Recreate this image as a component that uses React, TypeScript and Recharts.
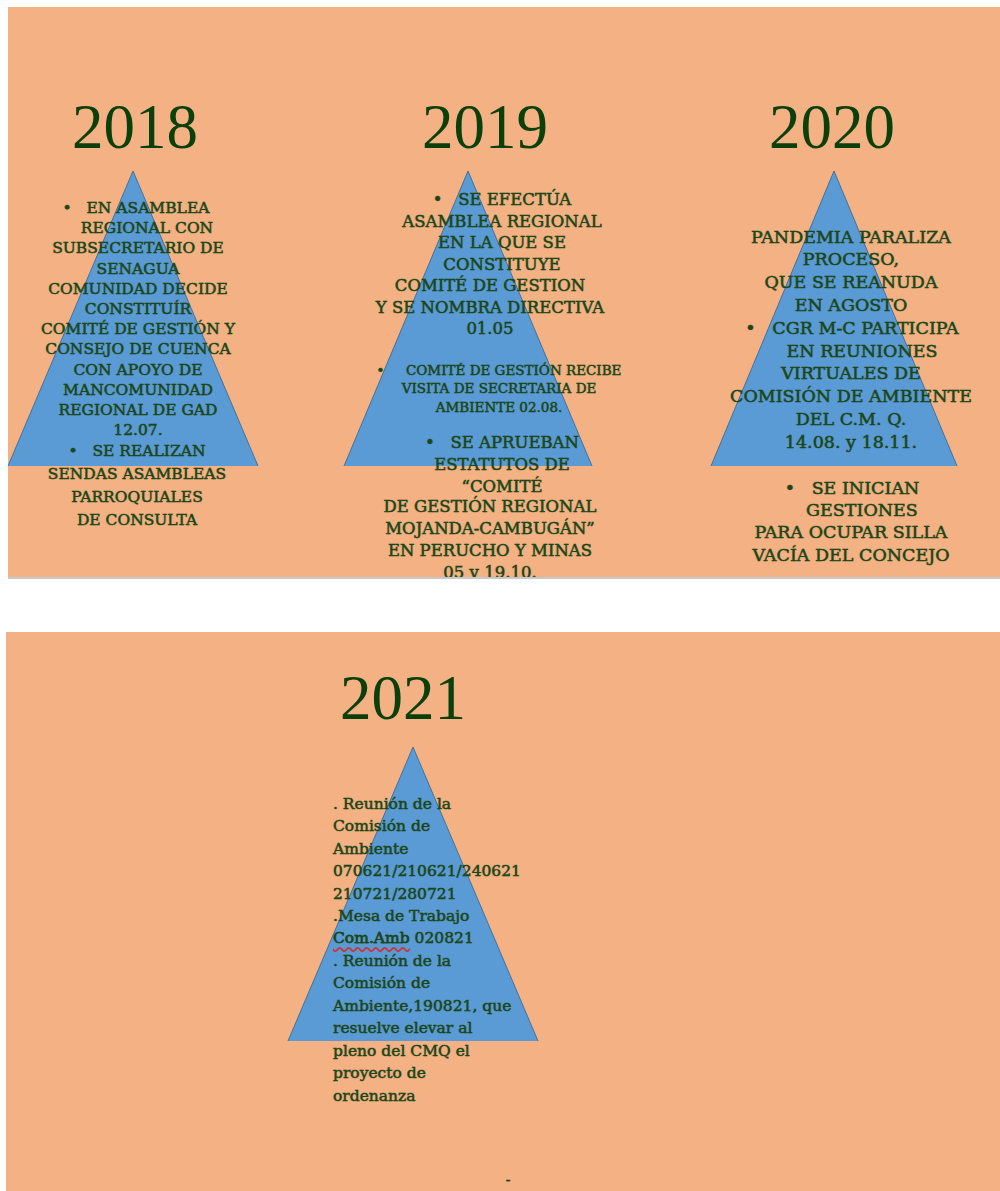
import { ComposedChart, Area, XAxis, YAxis } from "recharts";

const PANEL_BG = "#F4B183";
const TRI_FILL = "#5B9BD5";
const TRI_STROKE = "#41719C";
const YEAR_COLOR = "#0B400B";
const TEXT_COLOR = "#1C471A";
const SERIF = "'DejaVu Serif', serif";

// años y pirámides (eje x de cada panel, en unidades de la diapositiva)
const years = ["2018", "2019", "2020", "2021"];
const pyramidCenters = [125, 460, 826, 407];
const pyramidHalfBase = [125, 124, 123, 125];
const pyramidHeight = [295, 295, 295, 294];

// textos
const text2018a = [
  "•   EN ASAMBLEA",
  "REGIONAL CON",
  "SUBSECRETARIO DE",
  "SENAGUA",
  "COMUNIDAD DECIDE",
  "CONSTITUÍR",
  "COMITÉ DE GESTIÓN Y",
  "CONSEJO DE CUENCA",
  "CON APOYO DE",
  "MANCOMUNIDAD",
  "REGIONAL DE GAD",
  "12.07.",
];
const text2018b = ["•   SE REALIZAN", "SENDAS ASAMBLEAS", "PARROQUIALES", "DE CONSULTA"];

const text2019a = ["•   SE EFECTÚA", "ASAMBLEA REGIONAL", "EN LA QUE SE", "CONSTITUYE"];
const text2019b = ["COMITÉ DE GESTION", "Y SE NOMBRA DIRECTIVA", "01.05"];
const text2019c = ["•     COMITÉ DE GESTIÓN RECIBE", "VISITA DE SECRETARIA DE", "AMBIENTE 02.08."];
const text2019d = ["•   SE APRUEBAN", "ESTATUTOS DE", "“COMITÉ"];
const text2019e = ["DE GESTIÓN REGIONAL", "MOJANDA-CAMBUGÁN”", "EN PERUCHO Y MINAS", "05 y 19.10."];

const text2020a = [
  "PANDEMIA PARALIZA",
  "PROCESO,",
  "QUE SE REANUDA",
  "EN AGOSTO",
  "•   CGR M-C PARTICIPA",
  "EN REUNIONES",
  "VIRTUALES DE",
  "COMISIÓN DE AMBIENTE",
  "DEL C.M. Q.",
  "14.08. y 18.11.",
];
const text2020b = ["•   SE INICIAN", "GESTIONES", "PARA OCUPAR SILLA", "VACÍA DEL CONCEJO"];

const text2021 = [
  ". Reunión de la",
  "Comisión de",
  "Ambiente",
  "070621/210621/240621",
  "210721/280721",
  ".Mesa de Trabajo",
  "Com.Amb 020821",
  ". Reunión de la",
  "Comisión de",
  "Ambiente,190821, que",
  "resuelve elevar al",
  "pleno del CMQ el",
  "proyecto de",
  "ordenanza",
];

const pyramid = (i: number) => [
  { x: pyramidCenters[i] - pyramidHalfBase[i], y: 0 },
  { x: pyramidCenters[i], y: pyramidHeight[i] },
  { x: pyramidCenters[i] + pyramidHalfBase[i], y: 0 },
];

type BlockProps = {
  lines: string[];
  x: number;
  y: number;
  lh: number;
  fs: number;
  dx?: number[];
  align?: "center" | "left";
};

function TextBlock({ lines, x, y, lh, fs, dx, align = "center" }: BlockProps) {
  return (
    <>
      {lines.map((t, i) => (
        <div
          key={i}
          style={{
            position: "absolute",
            left: align === "center" ? x - 200 + (dx?.[i] ?? 0) : x,
            top: y - lh / 2 + i * lh,
            width: 400,
            height: lh,
            lineHeight: `${lh}px`,
            fontSize: fs,
            fontFamily: SERIF,
            textAlign: align,
            whiteSpace: "pre",
            color: TEXT_COLOR,
            WebkitTextStroke: `0.35px ${TEXT_COLOR}`,
            textShadow: "0 0 1px rgba(20,60,20,0.5)",
          }}
        >
          {t === "Com.Amb 020821" ? (
            <>
              <span style={{ textDecoration: "underline wavy #E03030", textUnderlineOffset: 3 }}>Com.Amb</span>
              {" 020821"}
            </>
          ) : (
            t
          )}
        </div>
      ))}
    </>
  );
}

function Year({ label, x, y }: { label: string; x: number; y: number }) {
  return (
    <div
      style={{
        position: "absolute",
        left: x - 100,
        top: y - 32,
        width: 200,
        height: 64,
        lineHeight: "64px",
        textAlign: "center",
        fontFamily: "'Liberation Serif', serif",
        fontSize: 63,
        color: YEAR_COLOR,
      }}
    >
      {label}
    </div>
  );
}

export default function App() {
  // panel 1 origen (8,7), panel 2 origen (6,632)
  const p1 = { x: 8, y: 7 };
  const p2 = { x: 6, y: 632 };
  return (
    <div style={{ position: "absolute", left: 0, top: 0, width: 1000, height: 1191, background: "#fff" }}>
      <div
        style={{
          position: "absolute",
          left: p1.x,
          top: p1.y,
          width: 992,
          height: 570,
          background: PANEL_BG,
          overflow: "hidden",
          borderBottom: "2px solid #C8C8C8",
        }}
      >
        <ComposedChart width={992} height={570} margin={{ top: 0, right: 0, bottom: 0, left: 0 }}>
          <XAxis type="number" dataKey="x" domain={[0, 992]} hide allowDataOverflow />
          <YAxis type="number" domain={[-111, 459]} hide allowDataOverflow />
          {[0, 1, 2].map((i) => (
            <Area
              key={years[i]}
              data={pyramid(i)}
              dataKey="y"
              type="linear"
              baseValue={0}
              fill={TRI_FILL}
              fillOpacity={1}
              stroke={TRI_STROKE}
              strokeWidth={1}
              dot={false}
              activeDot={false}
              isAnimationActive={false}
            />
          ))}
        </ComposedChart>
        <Year label={years[0]} x={135 - p1.x} y={127 - p1.y} />
        <Year label={years[1]} x={485 - p1.x} y={127 - p1.y} />
        <Year label={years[2]} x={832 - p1.x} y={127 - p1.y} />

        <TextBlock lines={text2018a} x={138 - p1.x} y={208 - p1.y} lh={20.2} fs={15.5} dx={[-2, 9, 0, 0, 0, 0, 0, 0, 0, 0, 0, 0]} />
        <TextBlock lines={text2018b} x={137 - p1.x} y={451 - p1.y} lh={23} fs={15.5} />

        <TextBlock lines={text2019a} x={502 - p1.x} y={200 - p1.y} lh={21.6} fs={16.5} />
        <TextBlock lines={text2019b} x={490 - p1.x} y={286 - p1.y} lh={21.6} fs={16.5} />
        <TextBlock lines={text2019c} x={499 - p1.x} y={370 - p1.y} lh={18.5} fs={13.5} />
        <TextBlock lines={text2019d} x={502 - p1.x} y={443 - p1.y} lh={22} fs={16.5} />
        <TextBlock lines={text2019e} x={490 - p1.x} y={507 - p1.y} lh={22} fs={16.5} />

        <TextBlock lines={text2020a} x={851 - p1.x} y={237 - p1.y} lh={22.8} fs={17.5} dx={[0, 0, 0, 0, 1, 11, 0, 0, 0, 0]} />
        <TextBlock lines={text2020b} x={851 - p1.x} y={488 - p1.y} lh={22.3} fs={17.5} dx={[1, 11, 0, 0]} />
      </div>

      <div
        style={{
          position: "absolute",
          left: p2.x,
          top: p2.y,
          width: 994,
          height: 559,
          background: PANEL_BG,
          overflow: "hidden",
        }}
      >
        <ComposedChart width={994} height={559} margin={{ top: 0, right: 0, bottom: 0, left: 0 }}>
          <XAxis type="number" dataKey="x" domain={[0, 994]} hide allowDataOverflow />
          <YAxis type="number" domain={[-150, 409]} hide allowDataOverflow />
          <Area
            data={pyramid(3)}
            dataKey="y"
            type="linear"
            baseValue={0}
            fill={TRI_FILL}
            fillOpacity={1}
            stroke={TRI_STROKE}
            strokeWidth={1}
            dot={false}
            activeDot={false}
            isAnimationActive={false}
          />
        </ComposedChart>
        <Year label={years[3]} x={403 - p2.x} y={698 - p2.y} />
        <TextBlock lines={text2021} x={333 - p2.x} y={804 - p2.y} lh={22.45} fs={15.5} align="left" />
        <TextBlock lines={["-"]} x={508 - p2.x} y={1180 - p2.y} lh={20} fs={14} />
      </div>
    </div>
  );
}
